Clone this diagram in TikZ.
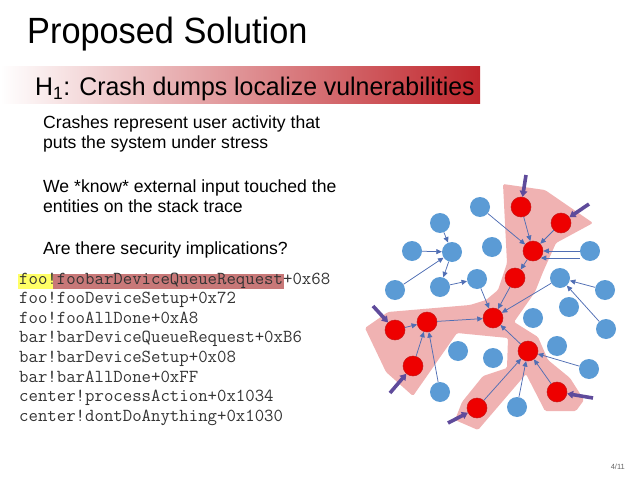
\documentclass[tikz,border=0pt]{standalone}
\usepackage{fontspec}
\setmainfont{Liberation Sans}
\newfontfamily\titlefont[FakeStretch=0.94]{Liberation Sans}
\newfontfamily\subfont[FakeStretch=0.975]{Liberation Sans}
\usetikzlibrary{arrows.meta}
\definecolor{nodeblue}{RGB}{91,155,213}
\definecolor{nodered}{RGB}{238,0,0}
\definecolor{rededge}{RGB}{200,20,20}
\definecolor{edgeblue}{RGB}{80,110,180}
\definecolor{inpurple}{RGB}{95,75,155}
\definecolor{pinkzone}{RGB}{240,178,178}
\definecolor{bandred}{RGB}{192,38,44}
\definecolor{hlyellow}{RGB}{255,255,102}
\definecolor{hlred}{RGB}{200,120,120}
\begin{document}
\begin{tikzpicture}[x=1pt,y=-1pt,
  bnode/.style={circle,fill=nodeblue,inner sep=0pt,minimum size=20pt},
  rnode/.style={circle,fill=nodered,draw=rededge,line width=0.5pt,inner sep=0pt,minimum size=20pt},
  link/.style={draw=edgeblue,line width=0.75pt,-{Triangle[length=5.5pt,width=5pt]}},
  inarrow/.style={draw=inpurple,line width=3.6pt,-{Triangle[length=6pt,width=7.5pt]}},
  body/.style={anchor=base west,inner sep=0pt,font=\fontsize{17.6}{20}\selectfont,text=black},
  code/.style={anchor=base west,inner sep=0pt,font=\ttfamily\fontsize{18.3}{19}\selectfont,text=black!80}]
\useasboundingbox (0,0) rectangle (638,479);
% subtitle band
\shade[left color=white,right color=bandred] (0,66) rectangle (480,103);
\node[anchor=base west,inner sep=0pt,font=\titlefont\fontsize{36.5}{40}\selectfont] (title) at (27,43) {Proposed Solution};
\node[anchor=base west,inner sep=0pt,font=\subfont\fontsize{25.5}{28}\selectfont] (sub) at (35,95.7) {H\textsubscript{1}: Crash dumps localize vulnerabilities};
% body text
\node[body] (t1) at (43,128) {Crashes represent user activity that};
\node[body] (t2) at (43,148) {puts the system under stress};
\node[body] (t3) at (43,192) {We *know* external input touched the};
\node[body] (t4) at (43,212) {entities on the stack trace};
\node[body] (t5) at (43,254) {Are there security implications?};
% code highlights
\fill[hlyellow] (18,274) rectangle (53,289);
\fill[hlred] (53,274) rectangle (284,289);
\node[code] (c1) at (19,284) {foo!foobarDeviceQueueRequest+0x68};
\node[code] (c2) at (19,303.6) {foo!fooDeviceSetup+0x72};
\node[code] (c3) at (19,323.2) {foo!fooAllDone+0xA8};
\node[code] (c4) at (19,342.8) {bar!barDeviceQueueRequest+0xB6};
\node[code] (c5) at (19,362.4) {bar!barDeviceSetup+0x08};
\node[code] (c6) at (19,382) {bar!barAllDone+0xFF};
\node[code] (c7) at (19,401.6) {center!processAction+0x1034};
\node[code] (c8) at (19,421.2) {center!dontDoAnything+0x1030};
% pink zone
\fill[pinkzone,rounded corners=1.5pt] (503,184) -- (545,190) -- (593,223) -- (556,243) -- (543,272) -- (535,292)
  -- (514,322) -- (538,337) -- (548,360) -- (570,378) -- (584,400) -- (576,411) -- (545,411) -- (526,374)
  -- (478,430) -- (455,420) -- (462,402) -- (483,376) -- (507,368) -- (508,338) -- (457,333)
  -- (413,396) -- (386,372) -- (365,328) -- (388,312) -- (470,305) -- (486,300) -- (498,290) -- (507,263) -- cycle;
% blue nodes
\node[bnode] (ba) at (480,207) {};
\node[bnode] (bb) at (440,223) {};
\node[bnode] (bc) at (412,251) {};
\node[bnode] (bd) at (452,252) {};
\node[bnode] (be) at (492,247) {};
\node[bnode] (bf) at (395,290) {};
\node[bnode] (bg) at (440,287) {};
\node[bnode] (bh) at (477,279) {};
\node[bnode] (bi) at (590,251) {};
\node[bnode] (bj) at (560,278) {};
\node[bnode] (bk) at (605,290) {};
\node[bnode] (bl) at (569,307) {};
\node[bnode] (bm) at (533,318) {};
\node[bnode] (bn) at (606,329) {};
\node[bnode] (bo) at (557,346) {};
\node[bnode] (bp) at (458,351) {};
\node[bnode] (bq) at (493,358) {};
\node[bnode] (br) at (440,392) {};
\node[bnode] (bs) at (589,369) {};
\node[bnode] (bt) at (517,407) {};
% red nodes
\node[rnode] (ra) at (521,207) {};
\node[rnode] (rb) at (561,223) {};
\node[rnode] (rc) at (533,251) {};
\node[rnode] (rd) at (515,278) {};
\node[rnode] (re) at (493,318) {};
\node[rnode] (rf) at (395,330) {};
\node[rnode] (rg) at (427,322) {};
\node[rnode] (rh) at (413,366) {};
\node[rnode] (ri) at (528,351) {};
\node[rnode] (rj) at (557,392) {};
\node[rnode] (rk) at (477,408) {};
% links
\draw[link] (bb) -- (bd);
\draw[link] (bc) -- (bd);
\draw[link] (bf) -- (bd);
\draw[link] (bd) -- (bg);
\draw[link] (bg) -- (bh);
\draw[link] (ba) -- (rc);
\draw[link] (bh) -- (re);
\draw[link] (ra) -- (rc);
\draw[link] (rb) -- (rc);
\draw[link] (bi) -- (rc);
\draw[link] ([yshift=-7pt]bi.west) -- ([yshift=-7pt,xshift=-2.5pt]rc.east);
\draw[link] (rc) -- (rd);
\draw[link] (rd) -- (re);
\draw[link] (bj) -- (re);
\draw[link] (bk) -- (bj);
\draw[link] (bn) -- (bj);
\draw[link] (rf) -- (rg);
\draw[link] (rg) -- (re);
\draw[link] (rh) -- (rg);
\draw[link] (br) -- (rg);
\draw[link] (ri) -- (re);
\draw[link] (rk) -- (ri);
\draw[link] (bt) -- (ri);
\draw[link] (rj) -- (ri);
\draw[link] (bs) -- (ri);
% external inputs
\coordinate (ia) at (526,175);
\coordinate (ib) at (589,204);
\coordinate (ic) at (373,306);
\coordinate (id) at (390,393);
\coordinate (ie) at (448,423);
\coordinate (ig) at (593,398);
\draw[inarrow] (ia) -- (ra);
\draw[inarrow] (ib) -- (rb);
\draw[inarrow] (ic) -- (rf);
\draw[inarrow] (id) -- (rh);
\draw[inarrow] (ie) -- (rk);
\draw[inarrow] (ig) -- (rj);
% page number
\node[anchor=base east,inner sep=0pt,font=\fontsize{7.5}{9}\selectfont,text=black!60] (pg) at (625,469) {4/11};
\end{tikzpicture}
\end{document}
